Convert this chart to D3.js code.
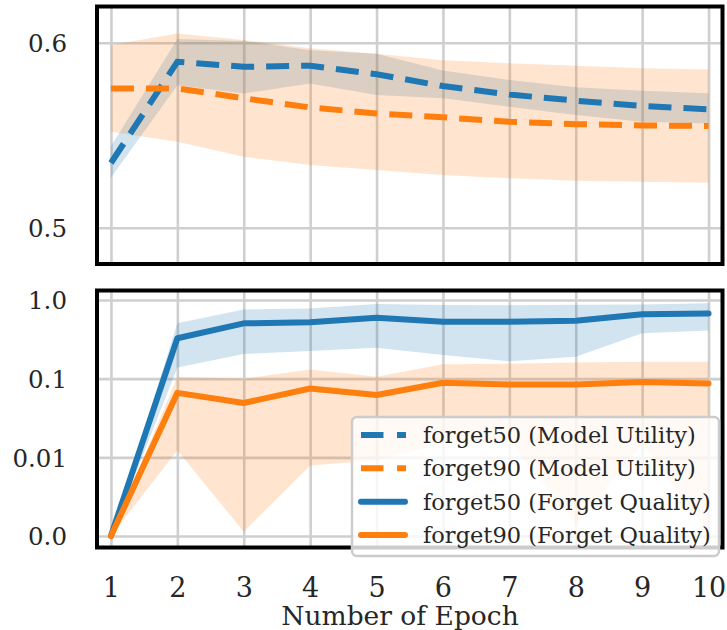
<!DOCTYPE html>
<html>
<head>
<meta charset="utf-8">
<script src="https://cdn.jsdelivr.net/npm/d3@7"></script>
<style>
  html, body { margin: 0; padding: 0; background: #fff; }
  svg { display: block; }
  text { font-family: "DejaVu Serif", serif; fill: #262626; }
</style>
</head>
<body>
<svg id="chart" width="727" height="630"></svg>
<script>
// ---------------- data ----------------
const epochs = [1, 2, 3, 4, 5, 6, 7, 8, 9, 10];

const f50MU    = [0.535, 0.5897, 0.587, 0.5876, 0.583, 0.5766, 0.572, 0.5687, 0.5658, 0.564];
const f50MULo  = [0.527, 0.577, 0.5726, 0.578, 0.5717, 0.570, 0.5654, 0.561, 0.5573, 0.5564];
const f50MUHi  = [0.544, 0.602, 0.601, 0.596, 0.594, 0.585, 0.5798, 0.5759, 0.574, 0.5727];

const f90MU    = [0.5753, 0.5753, 0.570, 0.565, 0.5618, 0.5597, 0.5573, 0.556, 0.5553, 0.555];
const f90MULo  = [0.5519, 0.5465, 0.5384, 0.5339, 0.5312, 0.5285, 0.5267, 0.5254, 0.5249, 0.5243];
const f90MUHi  = [0.5988, 0.605, 0.6015, 0.597, 0.594, 0.5906, 0.5889, 0.5876, 0.5862, 0.5856];

const f50FQ    = [0.001, 0.326, 0.505, 0.52, 0.596, 0.53, 0.53, 0.546, 0.657, 0.676];
const f50FQLo  = [0.001, 0.139, 0.206, 0.224, 0.247, 0.2, 0.167, 0.19, 0.377, 0.41];
const f50FQHi  = [0.001, 0.505, 0.76, 0.78, 0.89, 0.864, 0.86, 0.87, 0.875, 0.91];

const f90FQ    = [0.001, 0.066, 0.049, 0.075, 0.062, 0.0887, 0.0845, 0.0845, 0.091, 0.087];
const f90FQLo  = [0.001, 0.0123, 0.00113, 0.0079, 0.0092, 0.015, 0.0166, 0.0014, 0.015, 0.0011];
const f90FQHi  = [0.001, 0.106, 0.1, 0.131, 0.106, 0.153, 0.155, 0.16, 0.164, 0.164];

const topTicks = [0.5, 0.6];
const topTickLabels = ["0.5", "0.6"];
const botTicks = [0.001, 0.01, 0.1, 1];
const botTickLabels = ["0.0", "0.01", "0.1", "1.0"];
const xTickLabels = ["1", "2", "3", "4", "5", "6", "7", "8", "9", "10"];

const legendLabels = [
  "forget50 (Model Utility)",
  "forget90 (Model Utility)",
  "forget50 (Forget Quality)",
  "forget90 (Forget Quality)"
];

// ---------------- layout ----------------
const BLUE = "#1f77b4", ORANGE = "#ff7f0e";
const svg = d3.select("#chart");
const L = 97, R = 722.5;
const top1 = 6.5, bot1 = 264;
const top2 = 290.5, bot2 = 547.5;
const FS_Y = 24.5, FS_X = 27, FS_LABEL = 26.5, FS_LEG = 22.5;

const x = d3.scaleLinear().domain([0.79, 10.21]).range([L, R]);
const yTop = d3.scaleLinear().domain([0.4804, 0.6196]).range([bot1, top1]);
const yBot = d3.scaleLog().domain([Math.pow(10, -3.146), Math.pow(10, 0.1208)]).range([bot2, top2]);

const defs = svg.append("defs");
defs.append("clipPath").attr("id", "clipTop").append("rect")
  .attr("x", L).attr("y", top1).attr("width", R - L).attr("height", bot1 - top1);
defs.append("clipPath").attr("id", "clipBot").append("rect")
  .attr("x", L).attr("y", top2).attr("width", R - L).attr("height", bot2 - top2);

function panel(y, yTicks, yLabels, top, bot, clipId, series) {
  const g = svg.append("g");
  // grid
  const xg = d3.axisBottom(x).tickValues(epochs).tickSize(-(bot - top)).tickFormat("");
  g.append("g").attr("transform", `translate(0,${bot})`).call(xg)
    .call(s => s.select(".domain").remove())
    .selectAll("line").attr("stroke", "#cfcfcf").attr("stroke-width", 2.6);
  const yg = d3.axisLeft(y).tickValues(yTicks).tickSize(-(R - L)).tickFormat("");
  g.append("g").attr("transform", `translate(${L},0)`).call(yg)
    .call(s => s.select(".domain").remove())
    .selectAll("line").attr("stroke", "#cfcfcf").attr("stroke-width", 2.6);

  const plot = g.append("g").attr("clip-path", `url(#${clipId})`);
  // bands
  series.forEach(s => {
    const area = d3.area()
      .x((d, i) => x(epochs[i]))
      .y0((d, i) => y(s.lo[i]))
      .y1((d, i) => y(s.hi[i]));
    plot.append("path").datum(s.v).attr("d", area)
      .attr("fill", s.color).attr("fill-opacity", 0.2).attr("stroke", "none");
  });
  // lines
  series.forEach(s => {
    const line = d3.line().x((d, i) => x(epochs[i])).y(d => y(d));
    const p = plot.append("path").datum(s.v).attr("d", line)
      .attr("fill", "none").attr("stroke", s.color).attr("stroke-width", 6);
    if (s.dash) p.attr("stroke-dasharray", "23,12").attr("stroke-linecap", "butt");
    else p.attr("stroke-linecap", "round").attr("stroke-linejoin", "round");
  });

  // y tick labels via axis
  const ya = d3.axisLeft(y).tickValues(yTicks).tickSize(0).tickPadding(0)
    .tickFormat((d, i) => yLabels[i]);
  const ax = g.append("g").attr("transform", `translate(67,0)`).call(ya);
  ax.select(".domain").remove();
  ax.selectAll("text").attr("font-family", "DejaVu Serif").attr("font-size", FS_Y)
    .attr("fill", "#262626").attr("dy", "0.36em").attr("x", 0);

  // frame
  g.append("rect").attr("x", L).attr("y", top).attr("width", R - L).attr("height", bot - top)
    .attr("fill", "none").attr("stroke", "#000").attr("stroke-width", 4);
  return g;
}

panel(yTop, topTicks, topTickLabels, top1, bot1, "clipTop", [
  { v: f50MU, lo: f50MULo, hi: f50MUHi, color: BLUE, dash: true },
  { v: f90MU, lo: f90MULo, hi: f90MUHi, color: ORANGE, dash: true }
]);

panel(yBot, botTicks, botTickLabels, top2, bot2, "clipBot", [
  { v: f50FQ, lo: f50FQLo, hi: f50FQHi, color: BLUE, dash: false },
  { v: f90FQ, lo: f90FQLo, hi: f90FQHi, color: ORANGE, dash: false }
]);

// x tick labels
const xa = d3.axisBottom(x).tickValues(epochs).tickSize(0).tickPadding(0)
  .tickFormat((d, i) => xTickLabels[i]);
const xag = svg.append("g").attr("transform", `translate(0,577)`).call(xa);
xag.select(".domain").remove();
xag.selectAll("text").attr("font-family", "DejaVu Serif").attr("font-size", FS_X)
  .attr("fill", "#262626").attr("dy", "0.73em");

svg.append("text").attr("x", 400).attr("y", 625).attr("text-anchor", "middle")
  .attr("font-size", FS_LABEL).text("Number of Epoch");

// legend
const lg = svg.append("g");
lg.append("rect").attr("x", 352).attr("y", 417).attr("width", 367).attr("height", 139)
  .attr("rx", 5).attr("fill", "#fff").attr("fill-opacity", 0.8)
  .attr("stroke", "#cccccc").attr("stroke-width", 2.5);
const legendItems = [
  { color: BLUE, dash: true }, { color: ORANGE, dash: true },
  { color: BLUE, dash: false }, { color: ORANGE, dash: false }
];
const rowY = d3.scalePoint().domain(d3.range(4)).range([435, 535]);
legendItems.forEach((it, i) => {
  const yy = rowY(i);
  const l = lg.append("line").attr("y1", yy).attr("y2", yy)
    .attr("stroke", it.color).attr("stroke-width", 6);
  if (it.dash) l.attr("x1", 361).attr("x2", 406).attr("stroke-dasharray", "22.5,13.5");
  else l.attr("x1", 361).attr("x2", 405).attr("stroke-linecap", "round");
  lg.append("text").attr("x", 423).attr("y", yy).attr("dy", "0.36em")
    .attr("font-size", FS_LEG).text(legendLabels[i]);
});
</script>
</body>
</html>
